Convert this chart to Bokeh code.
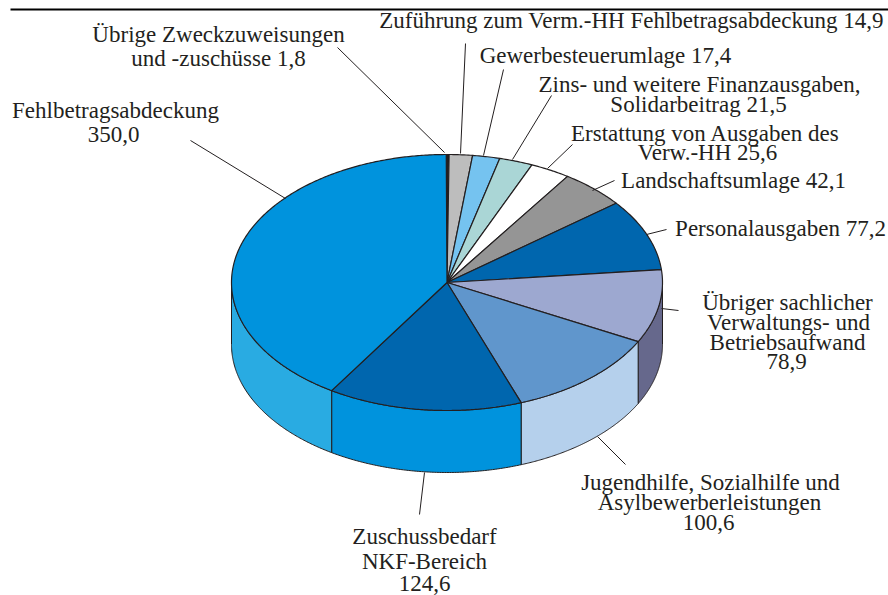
import numpy as np
from bokeh.plotting import figure
from bokeh.models import Range1d
from bokeh.core.properties import value
from bokeh.embed import file_html
from bokeh.resources import INLINE

# Data, clockwise from twelve o'clock
names = ["Übrige Zweckzuweisungen und -zuschüsse", "Zuführung zum Verm.-HH Fehlbetragsabdeckung",
         "Gewerbesteuerumlage", "Zins- und weitere Finanzausgaben, Solidarbeitrag",
         "Erstattung von Ausgaben des Verw.-HH", "Landschaftsumlage", "Personalausgaben",
         "Übriger sachlicher Verwaltungs- und Betriebsaufwand",
         "Jugendhilfe, Sozialhilfe und Asylbewerberleistungen",
         "Zuschussbedarf NKF-Bereich", "Fehlbetragsabdeckung"]
amounts = [1.8, 14.9, 17.4, 21.5, 25.6, 42.1, 77.2, 78.9, 100.6, 124.6, 350.0]
top_colors = ["#231F20", "#BDBDBD", "#75C3F0", "#AAD6D6", "#FFFFFF", "#959595", "#0066AE",
              "#9DA8D0", "#6096CC", "#0066AE", "#0093DD"]
side_colors = ["#231F20", "#BDBDBD", "#75C3F0", "#AAD6D6", "#FFFFFF", "#959595", "#0066AE",
               "#66688C", "#B5D0EC", "#0093DD", "#29ABE2"]

label_lines = ["Übrige Zweckzuweisungen", "und -zuschüsse 1,8", "Fehlbetragsabdeckung", "350,0",
               "Zuführung zum Verm.-HH Fehlbetragsabdeckung 14,9", "Gewerbesteuerumlage 17,4",
               "Zins- und weitere Finanzausgaben,", "Solidarbeitrag 21,5",
               "Erstattung von Ausgaben des", "Verw.-HH 25,6", "Landschaftsumlage 42,1",
               "Personalausgaben 77,2", "Übriger sachlicher", "Verwaltungs- und", "Betriebsaufwand", "78,9",
               "Jugendhilfe, Sozialhilfe und", "Asylbewerberleistungen", "100,6",
               "Zuschussbedarf", "NKF-Bereich", "124,6"]

# Layout (page pixels)
label_x = [218, 218, 115, 113, 631, 605, 699, 698, 705, 707, 733, 780, 787, 788, 787, 786, 710, 709, 708, 424, 424, 424]
label_y = [41, 65, 117, 141, 27, 62, 91, 111, 140, 159, 187, 235, 309, 329, 349, 368, 489, 509, 529, 543, 568, 590]
lead_x = [[337, 444], [190, 285], [465, 460], [503, 483], [551, 512], [572, 547], [614, 592], [666, 646], [661, 678], [597, 625], [424, 419]]
lead_y = [[47, 152], [140, 198], [43, 153], [69, 155], [95, 159], [144, 168], [180, 190], [229, 234], [308, 310], [436, 464], [472, 514]]
CX, CY, RX, RY, DEPTH = 446.5, 282.0, 215.5, 128.0, 62.0
START = -0.2

p = figure(width=888, height=595, output_backend="svg", toolbar_location=None,
           x_range=Range1d(0, 888), y_range=Range1d(595, 0), min_border=0)
p.axis.visible = False
p.grid.visible = False
p.outline_line_color = None

vals = np.array(amounts)
edges = START + np.concatenate([[0], np.cumsum(vals)]) / vals.sum() * 360.0

def ex(a):
    return CX + RX * np.sin(np.radians(a))
def ey(a):
    return CY - RY * np.cos(np.radians(a))

# walls (front half only)
for a0, a1, col in zip(edges[:-1], edges[1:], side_colors):
    lo, hi = max(a0, 90.0), min(a1, 270.0)
    if hi <= lo:
        continue
    t = np.linspace(lo, hi, 120)
    xs = np.concatenate([ex(t), ex(t[::-1])])
    ys = np.concatenate([ey(t), ey(t[::-1]) + DEPTH])
    p.patch(xs, ys, fill_color=col, line_color="#231F20", line_width=1)

# top face
for a0, a1, col in zip(edges[:-1], edges[1:], top_colors):
    t = np.linspace(a0, a1, max(int(a1 - a0) * 2, 3))
    xs = np.concatenate([[CX], ex(t)])
    ys = np.concatenate([[CY], ey(t)])
    p.patch(xs, ys, fill_color=col, line_color="#231F20", line_width=1.2)

p.multi_line(lead_x, lead_y, line_color="#231F20", line_width=1)
p.line([10, 888], [9, 9], line_color="#000000", line_width=2)

p.text(x=label_x, y=label_y, text=label_lines, text_font=value("Liberation Serif"),
       text_font_size="23px", text_color="#231F20", text_align="center", text_baseline="alphabetic",
       y_offset=-7)

open("out.html", "w").write(file_html(p, INLINE))
